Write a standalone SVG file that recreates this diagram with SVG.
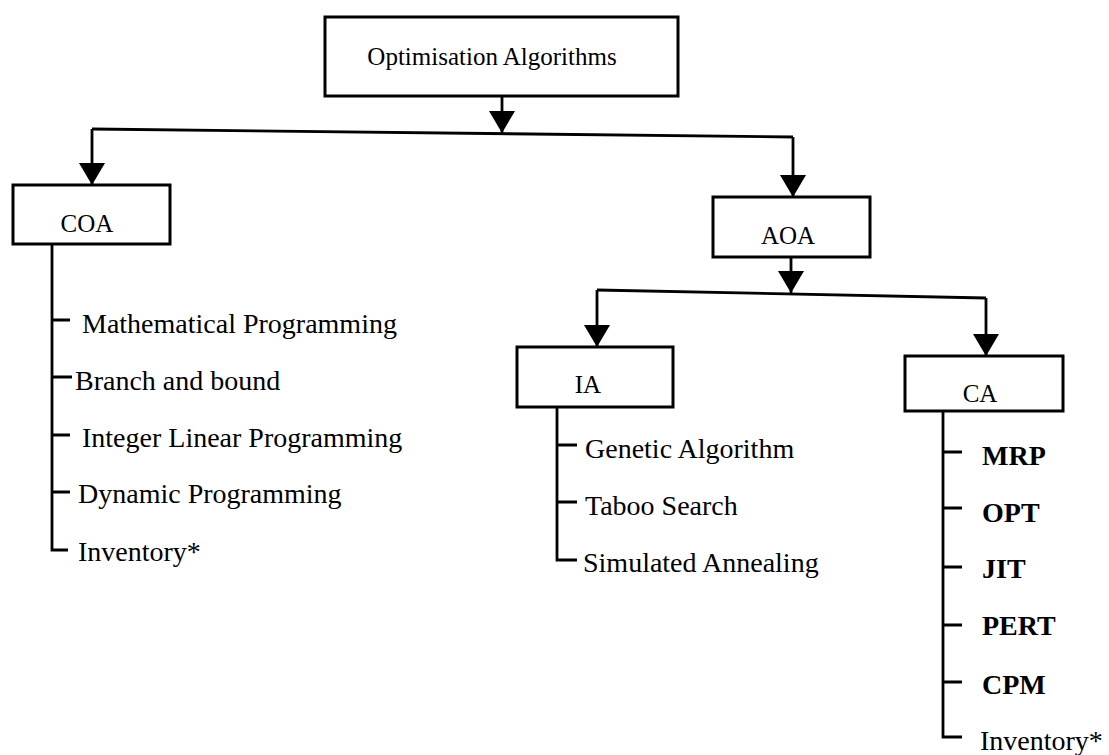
<svg xmlns="http://www.w3.org/2000/svg" width="1109" height="755" viewBox="0 0 1109 755">
<defs>
<style>
.box{fill:#fff;stroke:#000;stroke-width:3}
.lbl{font-family:"Liberation Serif","Times New Roman",serif;font-size:25px;fill:#000;text-anchor:middle}
.item{font-family:"Liberation Serif","Times New Roman",serif;font-size:28px;fill:#000}
.acr{font-weight:bold}
.con{fill:none;stroke:#000;stroke-width:2.8}
</style>
<marker id="arr" markerUnits="userSpaceOnUse" markerWidth="24" markerHeight="26" refX="22" refY="13" orient="auto" viewBox="0 0 24 26">
<path d="M0,0 L22,13 L0,26 Z" fill="#000"/>
</marker>
</defs>
<rect width="1109" height="755" fill="#fff"/>

<g id="connectors">
<line class="con" x1="502" y1="96" x2="502" y2="133" marker-end="url(#arr)"/>
<path class="con" d="M92,129 L793,137"/>
<line class="con" x1="92" y1="129" x2="92" y2="185" marker-end="url(#arr)"/>
<line class="con" x1="793" y1="137" x2="793" y2="197" marker-end="url(#arr)"/>
<line class="con" x1="791" y1="257" x2="791" y2="293" marker-end="url(#arr)"/>
<path class="con" d="M597,290 L986,298"/>
<line class="con" x1="597" y1="290" x2="597" y2="347" marker-end="url(#arr)"/>
<line class="con" x1="986" y1="298" x2="986" y2="356" marker-end="url(#arr)"/>
<!-- COA list -->
<path class="con" d="M52,244 L52,550 L68,550 M52,320 L70,320 M52,377 L72,377 M52,435 L70,435 M52,492 L70,492"/>
<!-- IA list -->
<path class="con" d="M557,407 L557,560 L577,560 M557,445 L577,445 M557,502 L577,502"/>
<!-- CA list -->
<path class="con" d="M943,411 L943,737 L962,737 M943,452 L962,452 M943,508 L962,508 M943,567 L962,567 M943,625 L962,625 M943,682 L962,682"/>
</g>

<g id="node-optimisation">
<rect class="box" x="325" y="17" width="353" height="79"/>
<text class="lbl" x="492" y="65">Optimisation Algorithms</text>
</g>
<g id="node-coa">
<rect class="box" x="13" y="185" width="157" height="59"/>
<text class="lbl" x="87" y="232">COA</text>
</g>
<g id="node-aoa">
<rect class="box" x="713" y="197" width="157" height="60"/>
<text class="lbl" x="788" y="244">AOA</text>
</g>
<g id="node-ia">
<rect class="box" x="517" y="347" width="156" height="60"/>
<text class="lbl" x="588" y="393">IA</text>
</g>
<g id="node-ca">
<rect class="box" x="905" y="356" width="158" height="55"/>
<text class="lbl" x="980" y="402">CA</text>
</g>

<g id="coa-items">
<text class="item" x="82" y="333">Mathematical Programming</text>
<text class="item" x="75" y="390">Branch and bound</text>
<text class="item" x="82" y="447">Integer Linear Programming</text>
<text class="item" x="78" y="503">Dynamic Programming</text>
<text class="item" x="78" y="561">Inventory*</text>
</g>
<g id="ia-items">
<text class="item" x="585" y="458">Genetic Algorithm</text>
<text class="item" x="585" y="515">Taboo Search</text>
<text class="item" x="583" y="572">Simulated Annealing</text>
</g>
<g id="ca-items">
<text class="item acr" x="982" y="465">MRP</text>
<text class="item acr" x="982" y="522">OPT</text>
<text class="item acr" x="982" y="578">JIT</text>
<text class="item acr" x="982" y="635">PERT</text>
<text class="item acr" x="982" y="694">CPM</text>
<text class="item" x="980" y="750">Inventory*</text>
</g>
</svg>
